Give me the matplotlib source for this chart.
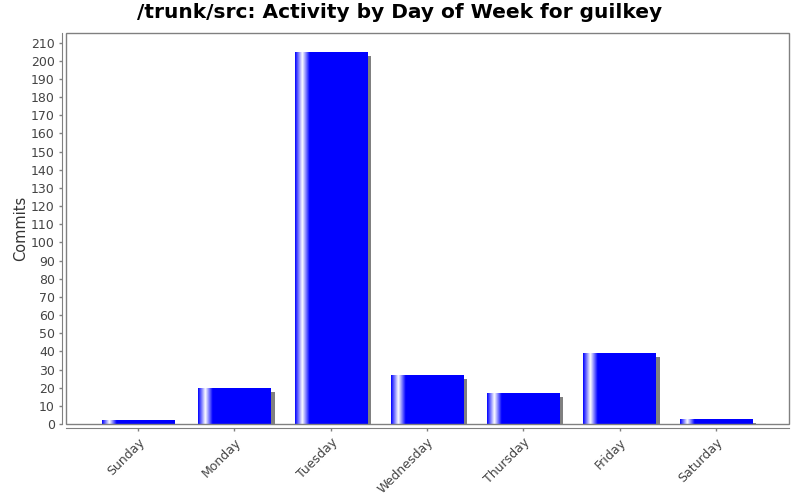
import numpy as np
import matplotlib
matplotlib.use("Agg")
import matplotlib.pyplot as plt
import matplotlib.transforms as mtransforms
from matplotlib.colors import LinearSegmentedColormap
from matplotlib.patches import Rectangle

days = ["Sunday", "Monday", "Tuesday", "Wednesday", "Thursday", "Friday", "Saturday"]
commits = [2, 20, 205, 27, 17, 39, 3]
title = "/trunk/src: Activity by Day of Week for guilkey"
ylabel = "Commits"

fig = plt.figure(figsize=(8, 5), dpi=100)
ax = fig.add_axes([66/800, 76/500, 723/800, 391/500])

x = np.arange(len(days))
width = 0.75
gray = "#808080"

# shadows
shadow_tr = mtransforms.offset_copy(ax.transData, fig=fig, x=4, y=-4, units="dots")
ax.bar(x, commits, width=width, color=gray, transform=shadow_tr, zorder=1)

bars = ax.bar(x, commits, width=width, color="none", edgecolor="none", zorder=2)
cmap = LinearSegmentedColormap.from_list(
    "g", [(0.0, (0, 0, 1)), (0.1, (1, 1, 1)), (0.2, (0, 0, 1)), (1.0, (0, 0, 1))])
grad = np.linspace(0, 1, 256).reshape(1, -1)
for b in bars:
    x0, w, h = b.get_x(), b.get_width(), b.get_height()
    im = ax.imshow(grad, cmap=cmap, extent=[x0, x0 + w, 0, h], aspect="auto",
                   interpolation="bilinear", zorder=2, vmin=0, vmax=1)
    im.set_clip_path(b)

ax.set_xlim(-0.75, 6.76)
ax.set_ylim(0, 215.25)
ax.set_yticks(np.arange(0, 211, 10))
ax.set_xticks(x)
ax.set_xticklabels(days)

for s in ["top", "right"]:
    ax.spines[s].set_visible(False)
for s in ["left", "bottom"]:
    ax.spines[s].set_position(("outward", 3))
    ax.spines[s].set_color(gray)
ax.add_patch(Rectangle((0, 0), 1, 1, transform=ax.transAxes, fill=False,
                       edgecolor=gray, lw=1, clip_on=False, zorder=5))

ax.tick_params(axis="both", colors=gray, labelcolor="#444444", labelsize=9,
               length=2, width=1, direction="out")
ax.tick_params(axis="y", pad=3)
for lab in ax.get_xticklabels():
    lab.set_rotation(45)
    lab.set_ha("right")
    lab.set_va("top")
    lab.set_rotation_mode("anchor")

ax.set_ylabel(ylabel, fontsize=10.5, color="#333333", labelpad=2)
fig.suptitle(title, fontsize=14.5, fontweight="bold", x=0.5, y=0.993, va="top")

fig.savefig("out.png", dpi=100)
